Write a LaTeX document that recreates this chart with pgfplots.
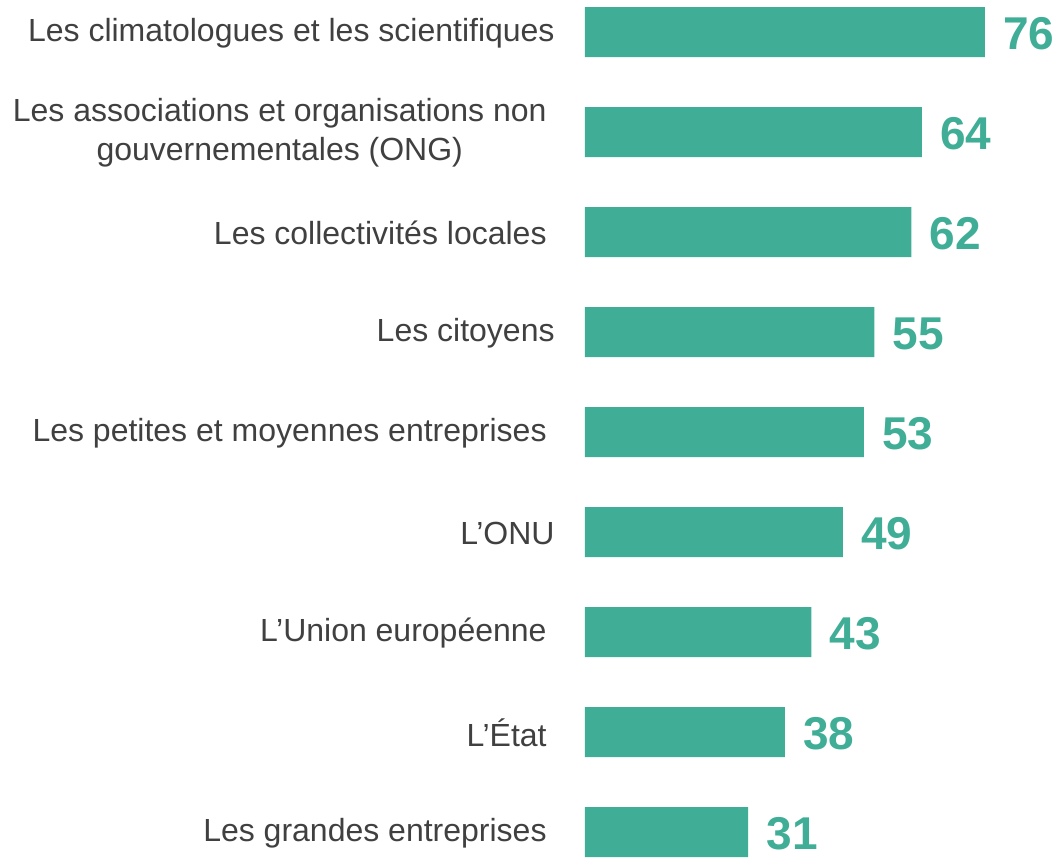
\documentclass[border=0pt]{standalone}
\usepackage{pgfplots}
\pgfplotsset{compat=1.18}
\usepackage{fontspec}
\setmainfont{Liberation Sans}
\definecolor{barteal}{RGB}{64,174,150}
\definecolor{labgray}{RGB}{64,64,64}

\begin{document}
\begin{tikzpicture}
\begin{axis}[
  name=ax,
  scale only axis,
  width=239pt, height=429pt,
  xbar, bar width=25pt,
  xmin=0, xmax=90.82,
  ymin=-0.32, ymax=8.26,
  y dir=reverse,
  axis line style={draw=none},
  xtick=\empty,
  ytick={0,...,8},
  major tick length=0pt,
  /pgf/number format/assume math mode=true,
  yticklabels={
    Les climatologues et les scientifiques,
    {\begin{tabular}{@{}c@{}}Les associations et organisations non\\gouvernementales (ONG)\end{tabular}\hspace*{4pt}},
    Les collectivités locales\hspace*{4pt},
    Les citoyens,
    Les petites et moyennes entreprises\hspace*{4pt},
    L’ONU,
    L’Union européenne\hspace*{4pt},
    L’État\hspace*{4pt},
    Les grandes entreprises\hspace*{4pt}
  },
  yticklabel style={font=\fontsize{16}{19.5}\selectfont, text=labgray, anchor=east, inner sep=0pt, xshift=-15pt, yshift=-0.5pt},
  nodes near coords,
  nodes near coords style={font=\fontsize{23}{25}\selectfont\bfseries, text=barteal, anchor=west, inner sep=0pt, xshift=9pt, yshift=-1pt},
  clip=false,
]
\addplot[fill=barteal, draw=none] coordinates {
  (76,0) (64,1) (62,2) (55,3) (53,4) (49,5) (43,6) (38,7) (31,8)
};
\end{axis}
\pgfresetboundingbox
\path ([xshift=-292.5pt]ax.south west) rectangle (ax.north east);
\end{tikzpicture}
\end{document}
